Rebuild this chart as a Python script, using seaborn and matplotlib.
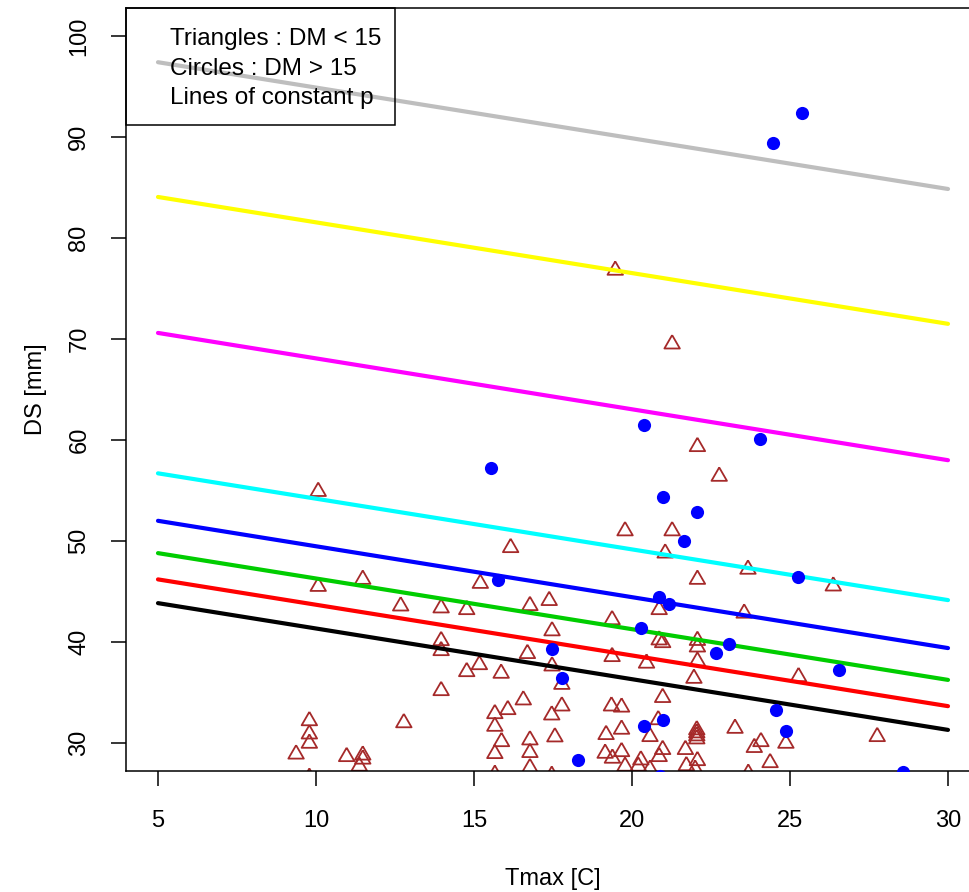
import numpy as np
import pandas as pd
import matplotlib
matplotlib.use("Agg")
import matplotlib.pyplot as plt
from matplotlib.patches import Rectangle
import seaborn as sns

# Observations with DM < 15 (drawn as open triangles)
tri_x = [10.07, 10.07, 11.48, 12.68, 13.96, 13.96, 13.96, 13.96, 14.77, 14.77,
         15.20, 16.16, 15.17, 15.86, 16.77, 17.38, 17.47, 16.69, 17.47, 17.78,
         16.56, 16.07, 15.66, 15.66, 17.78, 17.46, 17.56, 15.87, 16.77, 15.66,
         16.77, 16.77, 15.66, 17.46, 12.78, 9.79, 9.79, 9.79, 9.37, 10.97,
         11.48, 11.48, 11.37, 9.79, 19.47, 21.27, 22.07, 22.76, 19.78, 21.27,
         21.05, 22.07, 23.67, 20.86, 23.55, 19.37, 20.86, 20.97, 22.07, 22.07,
         19.37, 20.46, 22.07, 21.96, 25.27, 26.37, 20.97, 19.35, 19.67, 20.83,
         19.18, 19.67, 20.57, 22.05, 22.05, 22.05, 22.05, 23.26, 24.08, 23.87,
         24.87, 19.15, 19.38, 19.67, 19.78, 20.28, 20.20, 20.97, 20.86, 20.57,
         21.69, 21.72, 22.07, 22.00, 24.37, 23.68, 27.76]
tri_y = [54.90, 45.50, 46.20, 43.56, 43.37, 40.13, 39.14, 35.18, 43.20, 37.06,
         45.80, 49.34, 37.75, 36.90, 43.60, 44.10, 41.10, 38.85, 37.62, 35.80,
         34.26, 33.30, 32.90, 31.65, 33.66, 32.77, 30.60, 30.13, 30.30, 28.95,
         29.05, 27.55, 26.90, 26.80, 32.00, 32.20, 30.89, 29.97, 28.90, 28.65,
         28.80, 28.40, 27.70, 26.60, 76.80, 69.50, 59.34, 56.40, 51.00, 51.00,
         48.80, 46.20, 47.20, 43.20, 42.85, 42.20, 40.20, 39.93, 40.15, 39.50,
         38.55, 37.90, 38.10, 36.40, 36.56, 45.54, 34.50, 33.66, 33.55, 32.30,
         30.83, 31.36, 30.63, 31.30, 31.00, 30.70, 30.40, 31.45, 30.13, 29.55,
         29.97, 28.98, 28.49, 29.14, 27.70, 28.32, 27.70, 29.35, 28.65, 27.40,
         29.35, 27.75, 28.25, 27.40, 28.05, 27.00, 30.63]

# Observations with DM > 15 (drawn as filled circles)
circ_x = [15.54, 15.77, 17.48, 17.77, 18.30, 20.37, 20.97, 22.07, 21.66, 20.86,
          21.16, 20.27, 23.07, 22.67, 20.97, 20.38, 20.90, 24.06, 25.26, 26.56,
          24.56, 24.87, 28.57, 24.47, 25.37]
circ_y = [57.20, 46.14, 39.30, 36.40, 28.30, 61.50, 54.35, 52.90, 50.00, 44.50,
          43.75, 41.42, 39.83, 38.92, 32.30, 31.70, 26.70, 60.10, 46.40, 37.23,
          33.30, 31.20, 27.10, 89.40, 92.35]

# Lines of constant p, evaluated at Tmax = 5 and Tmax = 30
line_x = [5, 30]
line_colors = ["#BEBEBE", "#FFFF00", "#FF00FF", "#00FFFF",
               "#0000FF", "#00CD00", "#FF0000", "#000000"]
line_start = [97.40, 84.06, 70.60, 56.70, 52.00, 48.80, 46.20, 43.85]
line_end = [84.85, 71.50, 58.00, 44.15, 39.40, 36.25, 33.65, 31.30]

x_ticks = [5, 10, 15, 20, 25, 30]
y_ticks = [30, 40, 50, 60, 70, 80, 90, 100]
legend_lines = ["Triangles : DM < 15", "Circles : DM > 15", "Lines of constant p"]

sns.set_style("ticks")
plt.rcParams["font.family"] = ["Liberation Sans", "DejaVu Sans"]
plt.rcParams["text.color"] = "black"
plt.rcParams["axes.labelcolor"] = "black"

fig = plt.figure(figsize=(9.7, 8.92), dpi=100)
ax = fig.add_axes([0.1303, 0.1353, 0.8796, 0.8561])

# equilateral open triangle like R's pch = 2
tri_marker = [(0, 1.555), (1.347, -0.778), (-1.347, -0.778), (0, 1.555)]
sns.scatterplot(x=tri_x, y=tri_y, marker=tri_marker, s=165,
                facecolors="none", edgecolor="#A52A2A", linewidth=1.3,
                ax=ax, zorder=2)

lines_df = pd.DataFrame({
    "Tmax": line_x * len(line_colors),
    "DS": [v for s, e in zip(line_start, line_end) for v in (s, e)],
    "p": [c for c in line_colors for _ in line_x],
})
sns.lineplot(data=lines_df, x="Tmax", y="DS", hue="p",
             palette={c: c for c in line_colors}, legend=False,
             linewidth=3.0, sort=False, estimator=None,
             solid_capstyle="round", ax=ax, zorder=3)

sns.scatterplot(x=circ_x, y=circ_y, marker="o", s=90, color="#0000FF",
                edgecolor="#0000FF", linewidth=0, ax=ax, zorder=4)

ax.set_xlim(4, 31)
ax.set_ylim(27.2, 102.8)
ax.set_xticks(x_ticks)
ax.set_yticks(y_ticks)
ax.set_yticklabels([str(t) for t in y_ticks], rotation=90, va="center")
ax.tick_params(axis="both", direction="out", length=11, width=1.1,
               color="black", labelsize=17, labelcolor="black")
ax.tick_params(axis="x", pad=17)
ax.tick_params(axis="y", pad=15)
for side in ["left", "bottom", "top", "right"]:
    ax.spines[side].set_visible(True)
    ax.spines[side].set_color("black")
    ax.spines[side].set_linewidth(1.1)

ax.set_xlabel("Tmax [C]", fontsize=17, labelpad=26)
ax.set_ylabel("DS [mm]", fontsize=17, labelpad=15)

# legend box in the top-left corner
ax.add_patch(Rectangle((0, 0.8467), 0.315, 0.1533, transform=ax.transAxes,
                       fill=False, edgecolor="black", linewidth=1.1,
                       zorder=5, clip_on=False))
for i, txt in enumerate(legend_lines):
    ax.text(0.0515, 0.9585 - i * 0.0385, txt, transform=ax.transAxes,
            fontsize=17.5, ha="left", va="center", zorder=6)

fig.savefig("out.png", dpi=100)
